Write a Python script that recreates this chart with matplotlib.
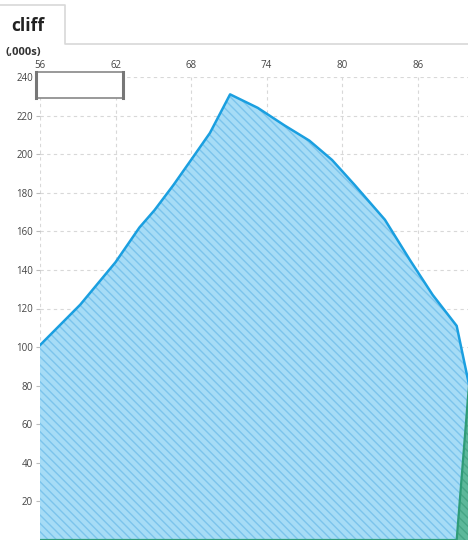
import matplotlib.pyplot as plt
from matplotlib.patches import Rectangle
from matplotlib.lines import Line2D

plt.rcParams['font.family'] = ['Open Sans', 'DejaVu Sans']
plt.rcParams['hatch.linewidth'] = 1.0

# blue series (thousands)
blue_x = [56, 59.2, 62, 63.9, 65.1, 66.6, 68, 69.5, 71.1, 73.3, 75.4, 77.4, 79.2,
          81, 83.4, 85.4, 87.2, 89.1, 91]
blue_y = [101, 122, 144, 162, 171, 184, 197, 211, 231, 224, 215, 207, 197,
          184, 166, 145, 127, 111, 52]
# green series
green_x = [56, 89.1, 90, 91]
green_y = [0, 0, 74, 150]

x_ticks = [56, 62, 68, 74, 80, 86]
y_ticks = [20, 40, 60, 80, 100, 120, 140, 160, 180, 200, 220, 240]

W, H = 468, 541
fig = plt.figure(figsize=(W / 100, H / 100), dpi=100)
ax = fig.add_axes([40 / W, 1 / H, 1 - 40 / W, (540 - 77) / H])

ax.fill_between(blue_x, 0, blue_y, facecolor='#a6dcf6', edgecolor='none', lw=0, zorder=2)
ax.fill_between(blue_x, 0, blue_y, facecolor='none', edgecolor='#7cc4ec',
                hatch='\\\\\\\\', lw=0, zorder=3)
ax.plot(blue_x, blue_y, color='#1a9fe0', lw=1.8, zorder=5)

ax.fill_between(green_x, 0, green_y, facecolor='#5cb89a', edgecolor='none', lw=0, zorder=6)
ax.fill_between(green_x, 0, green_y, facecolor='none', edgecolor='#45a585',
                hatch='\\\\\\\\', lw=0, zorder=7)
ax.plot(green_x, green_y, color='#2f9c78', lw=1.6, zorder=8)

ax.set_xlim(56, 90)
ax.set_ylim(0, 240)
ax.set_xticks(x_ticks)
ax.set_yticks(y_ticks)
ax.xaxis.tick_top()
ax.tick_params(axis='x', length=0, pad=4, labelsize=7, colors='#444')
ax.tick_params(axis='y', length=3, width=0.8, color='#bbb', pad=2, labelsize=7,
               labelcolor='#444')
ax.grid(True, color='#d8d8d8', ls=(0, (3, 3)), lw=0.8, zorder=1)
for s in ax.spines.values():
    s.set_visible(False)

# tab header (open at the bottom)
fig.lines.append(Line2D([0, 65 / W, 65 / W, 1],
                        [1 - 5 / H, 1 - 5 / H, 1 - 44 / H, 1 - 44 / H],
                        transform=fig.transFigure, color='#d8d8d8', lw=1.2))
fig.text(11 / W, 1 - 26 / H, 'cliff', fontsize=12.5, fontweight='bold', va='center',
         color='#222')
fig.text(5 / W, 1 - 53 / H, '(,000s)', fontsize=8, fontweight='bold', va='center',
         color='#333')

# range selector box
fig.patches.append(Rectangle((36 / W, 1 - 98 / H), 87 / W, 26 / H, transform=fig.transFigure,
                             facecolor='white', edgecolor='#888', lw=1.2, zorder=10))
for hx in (36, 123):
    fig.lines.append(Line2D([hx / W, hx / W], [1 - 98 / H, 1 - 72 / H],
                            transform=fig.transFigure, color='#777', lw=2.2, zorder=11))

fig.savefig('out.png', dpi=100)
